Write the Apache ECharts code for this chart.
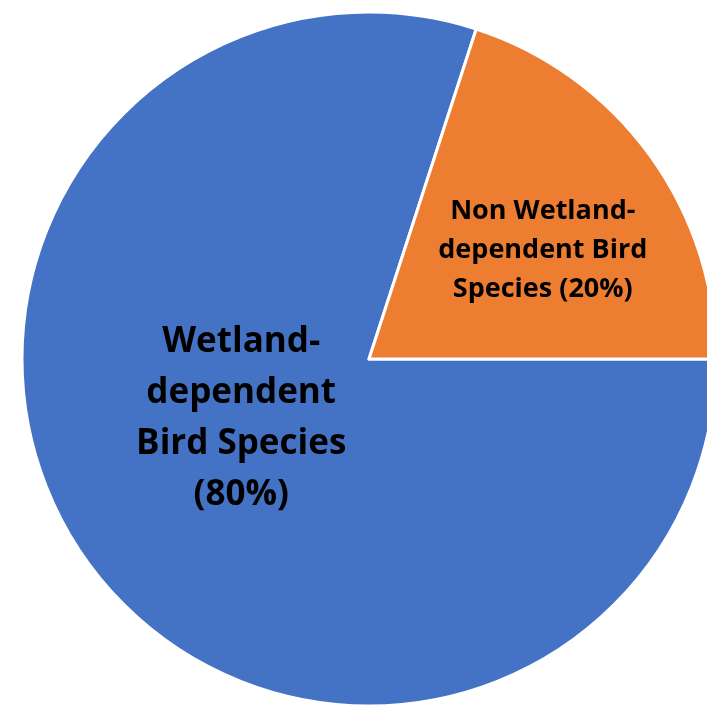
<!DOCTYPE html>
<html>
<head>
<meta charset="utf-8">
<script src="https://cdn.jsdelivr.net/npm/echarts@6/dist/echarts.min.js"></script>
<style>
  html, body { margin: 0; padding: 0; background: #fff; }
  #chart { width: 707px; height: 705px; }
</style>
</head>
<body>
<div id="chart"></div>
<script>
// slice names and shares (%)
var names = ['Wetland-\ndependent\nBird Species', 'Non Wetland-\ndependent Bird\nSpecies'];
var shares = [80, 20];
var colors = ['#4472C4', '#ED7D31'];

var chart = echarts.init(document.getElementById('chart'));

var option = {
  animation: false,
  series: [
    {
      type: 'pie',
      center: [369, 359],
      radius: [0, 347],
      startAngle: 0,
      clockwise: true,
      avoidLabelOverlap: false,
      itemStyle: { borderColor: '#fff', borderWidth: 3 },
      label: { show: true, position: 'inside', color: '#000', fontWeight: 'bold', fontFamily: 'Open Sans' },
      labelLine: { show: false },
      data: [
        {
          name: names[0], value: shares[0],
          itemStyle: { color: colors[0] },
          label: {
            formatter: function (p) { return p.name + '\n(' + p.value + '%)'; },
            fontSize: 35, lineHeight: 51, offset: [15, -44]
          }
        },
        {
          name: names[1], value: shares[1],
          itemStyle: { color: colors[1] },
          label: {
            formatter: function (p) { return p.name + ' (' + p.value + '%)'; },
            fontSize: 27, lineHeight: 39, offset: [31, -5]
          }
        }
      ]
    }
  ]
};

chart.setOption(option);
</script>
</body>
</html>
